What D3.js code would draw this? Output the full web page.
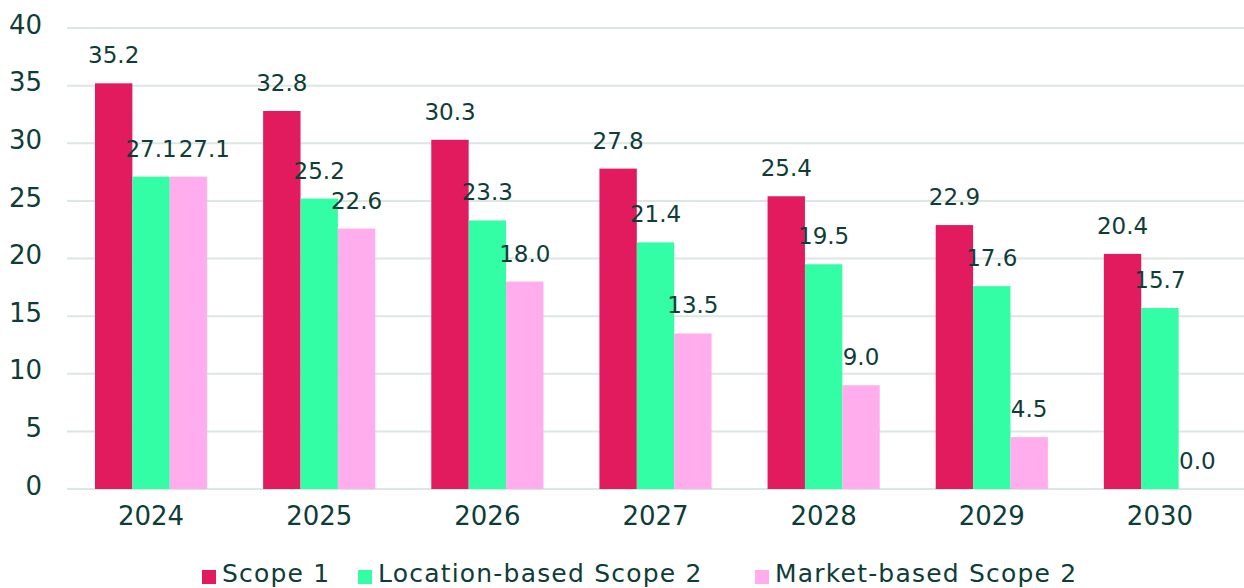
<!DOCTYPE html>
<html>
<head>
<meta charset="utf-8">
<script src="https://cdn.jsdelivr.net/npm/d3@7"></script>
<style>
  body { margin: 0; background: #ffffff; }
  svg text { font-family: 'DejaVu Sans', sans-serif; fill: #0e3d38; }
</style>
</head>
<body>
<div id="chart"></div>
<script>
// The data...
var years      = [ '2024', '2025', '2026', '2027', '2028', '2029', '2030' ];
var seriesNames = [ 'Scope 1', 'Location-based Scope 2', 'Market-based Scope 2' ];
var scope1     = [ 35.2, 32.8, 30.3, 27.8, 25.4, 22.9, 20.4 ];
var locationS2 = [ 27.1, 25.2, 23.3, 21.4, 19.5, 17.6, 15.7 ];
var marketS2   = [ 27.1, 22.6, 18.0, 13.5, 9.0, 4.5, 0.0 ];
var yTicks     = [ 0, 5, 10, 15, 20, 25, 30, 35, 40 ];

var colours = [ '#e21b5e', '#33fda5', '#ffadec' ];
var allSeries = [ scope1, locationS2, marketS2 ];

var W = 1244, H = 588;
var margin = { top: 28, right: 0, bottom: 99, left: 67 };

var svg = d3.select('#chart').append('svg')
            .attr('width', W)
            .attr('height', H);

var xScale = d3.scaleBand()
               .domain(years)
               .range([margin.left, W - margin.right])
               .paddingInner(0.333)
               .paddingOuter(0.1665);

var xSub = d3.scaleBand()
             .domain(d3.range(seriesNames.length))
             .range([0, xScale.bandwidth()]);

var yScale = d3.scaleLinear()
               .domain([0, 40])
               .range([H - margin.bottom, margin.top]);

// gridlines
svg.append('g')
   .selectAll('line')
   .data(yTicks)
   .enter()
   .append('line')
   .attr('x1', margin.left)
   .attr('x2', W - margin.right)
   .attr('y1', function(d) { return yScale(d); })
   .attr('y2', function(d) { return yScale(d); })
   .attr('stroke', '#dce6e2')
   .attr('stroke-width', 2);

// y axis labels
var yAxis = d3.axisLeft(yScale).tickValues(yTicks).tickSize(0).tickPadding(25);
var gy = svg.append('g')
            .attr('transform', 'translate(' + margin.left + ',0)')
            .call(yAxis);
gy.select('.domain').remove();
gy.selectAll('text')
  .attr('dy', '0.2em')
  .style('font-size', '26px')
  .style('font-family', "'DejaVu Sans', sans-serif")
  .attr('fill', '#0e3d38');

// x axis labels
var xAxis = d3.axisBottom(xScale).tickSize(0).tickPadding(18);
var gx = svg.append('g')
            .attr('transform', 'translate(0,' + (H - margin.bottom) + ')')
            .call(xAxis);
gx.select('.domain').remove();
gx.selectAll('text')
  .style('font-size', '26px')
  .style('font-family', "'DejaVu Sans', sans-serif")
  .attr('fill', '#0e3d38');

// bars + labels
var groups = svg.selectAll('.year')
                .data(years)
                .enter()
                .append('g')
                .attr('class', 'year')
                .attr('transform', function(d) { return 'translate(' + xScale(d) + ',0)'; });

for (var s = 0; s < allSeries.length; s++)
{
    (function(s) {
        groups.append('rect')
              .attr('x', xSub(s))
              .attr('y', function(d, i) { return yScale(allSeries[s][i]); })
              .attr('width', xSub.bandwidth())
              .attr('height', function(d, i) { return yScale(0) - yScale(allSeries[s][i]); })
              .attr('fill', colours[s]);

        groups.append('text')
              .attr('class', 'vlabel')
              .attr('x', xSub(s) + xSub.bandwidth() / 2)
              .attr('y', function(d, i) { return yScale(allSeries[s][i]) - 20; })
              .attr('text-anchor', 'middle')
              .style('font-size', '23px')
              .text(function(d, i) { return allSeries[s][i].toFixed(1); });
    })(s);
}

// push labels right when they collide with the one before (same height)
groups.each(function() {
    var labels = d3.select(this).selectAll('.vlabel').nodes();
    for (var k = 1; k < labels.length; k++)
    {
        var a = labels[k-1].getBBox(), b = labels[k].getBBox();
        var sameRow = Math.abs(a.y - b.y) < a.height;
        if (sameRow && b.x < a.x + a.width + 2)
        {
            var shift = a.x + a.width + 2 - b.x;
            d3.select(labels[k]).attr('x', +labels[k].getAttribute('x') + shift);
        }
    }
});

// legend
var legendX = [ 202, 358, 755 ];
var legend = svg.append('g');
for (var i = 0; i < seriesNames.length; i++)
{
    legend.append('rect')
          .attr('x', legendX[i])
          .attr('y', 570)
          .attr('width', 14)
          .attr('height', 14)
          .attr('fill', colours[i]);
    legend.append('text')
          .attr('x', legendX[i] + 20)
          .attr('y', 582)
          .style('font-size', '25px')
          .style('letter-spacing', '1.2px')
          .text(seriesNames[i]);
}
</script>
</body>
</html>
